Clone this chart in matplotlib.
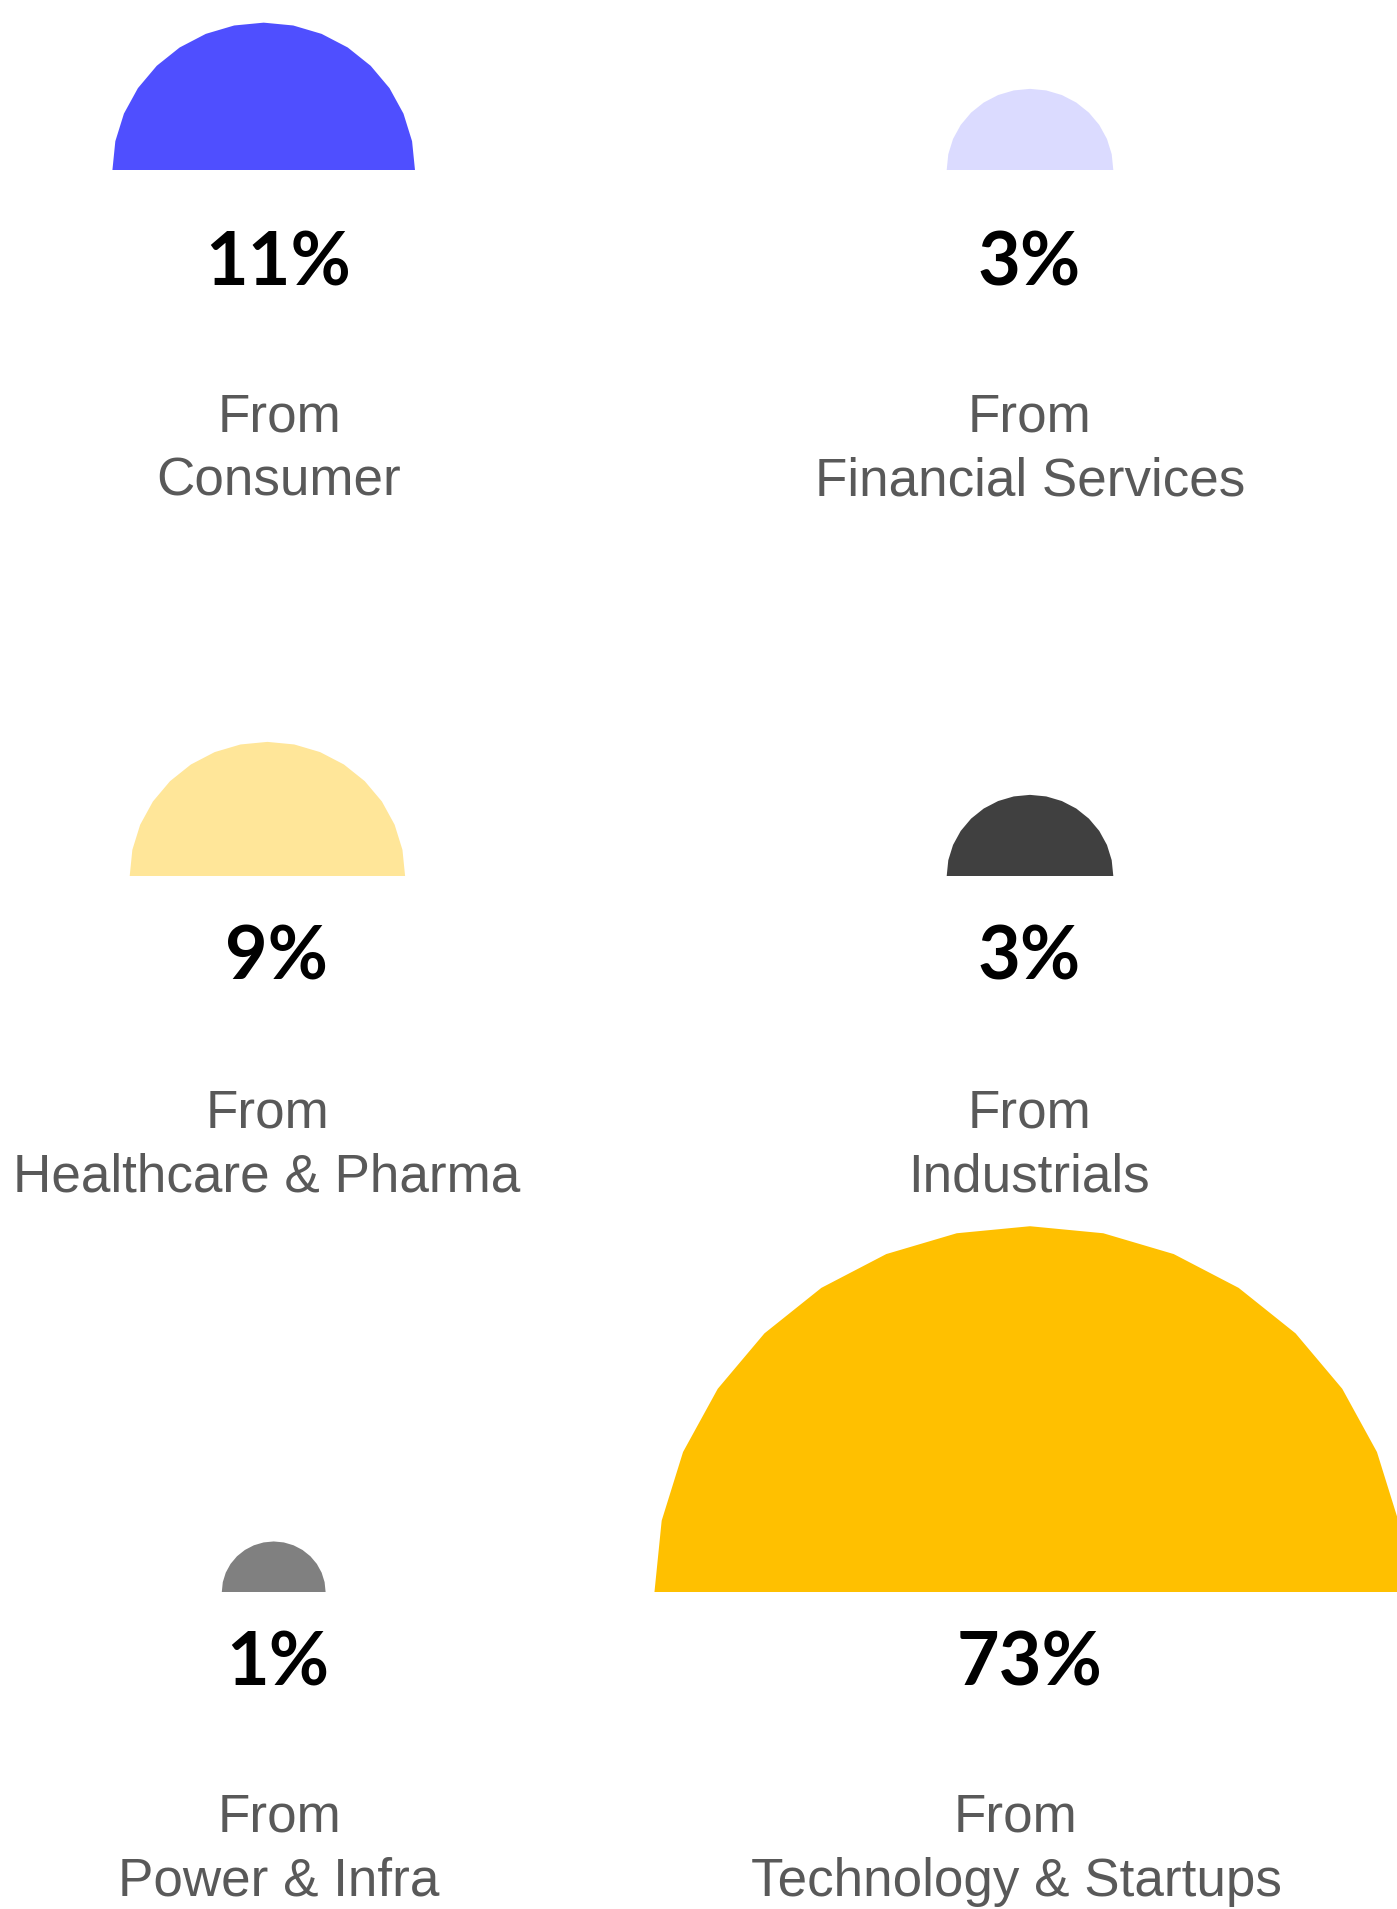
import numpy as np
import matplotlib
matplotlib.use("Agg")
import matplotlib.pyplot as plt
from matplotlib.patches import Polygon

# Share of deals by sector (percent)
sectors = ["Consumer", "Financial Services", "Healthcare & Pharma",
           "Industrials", "Power & Infra", "Technology & Startups"]
shares = [11, 3, 9, 3, 1, 73]
colors = ["#4F4FFF", "#DBDBFF", "#FFE699", "#404040", "#808080", "#FFC000"]

# Layout in figure pixels (y grows downward)
W, H = 1397, 1909
shape_x = [263.7, 1030, 267.4, 1030, 273.7, 1030]
shape_base = [170, 170, 876, 876, 1592, 1592]
pct_x = [278, 1029, 277, 1029, 278, 1030]
pct_base = [286, 286, 980, 980, 1685, 1685]
name_x = [279, 1030, 267, 1029, 279, 1016]
from_base = [432, 432, 1127, 1127, 1832, 1832]
LINE_GAP = 64

# Radius scale: r = a + b * sqrt(share)
R_OFFSET, R_SCALE = 9.0, 42.9
Y_SQUASH = 0.974
N_SEG = 16


def half_disc(cx, base, r):
    ang = np.linspace(np.pi, 0, N_SEG + 1)
    xs = cx + r * np.cos(ang)
    ys = base - r * Y_SQUASH * np.sin(ang)
    return np.column_stack([xs, ys])


fig = plt.figure(figsize=(W / 100, H / 100), dpi=100)
ax = fig.add_axes([0, 0, 1, 1])
ax.set_xlim(0, W)
ax.set_ylim(H, 0)
ax.axis("off")

for i, (name, v, c) in enumerate(zip(sectors, shares, colors)):
    r = R_OFFSET + R_SCALE * np.sqrt(v)
    ax.add_patch(Polygon(half_disc(shape_x[i], shape_base[i], r),
                         closed=True, facecolor=c, edgecolor="none"))
    ax.text(pct_x[i], pct_base[i], f"{v}%", ha="center", va="baseline",
            fontsize=53, fontweight="bold", family="Lato", color="black")
    ax.text(name_x[i], from_base[i], "From", ha="center", va="baseline",
            fontsize=38.2, family="Liberation Sans", color="#595959")
    ax.text(name_x[i], from_base[i] + LINE_GAP, name, ha="center",
            va="baseline", fontsize=38.2, family="Liberation Sans",
            color="#595959")

fig.savefig("out.png", dpi=100, facecolor="white")
